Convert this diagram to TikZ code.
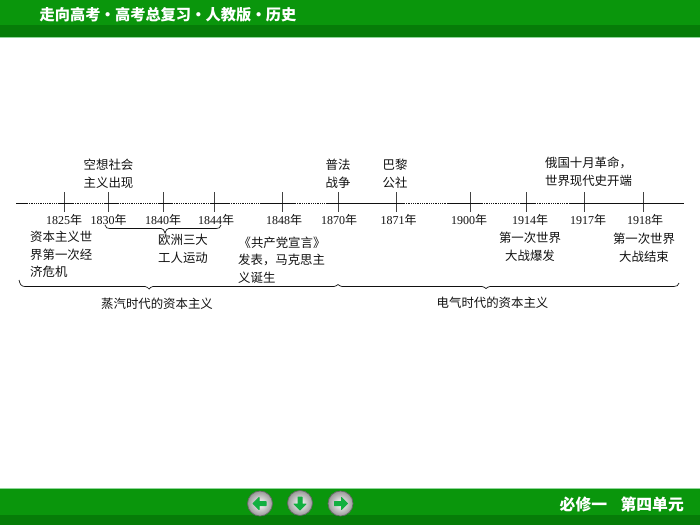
\documentclass[tikz,border=0pt]{standalone}
\usepackage{fontspec}
\setmainfont{Liberation Serif}
\newfontfamily\cjk{Noto Sans CJK SC}
\usetikzlibrary{calc}
\normallineskiplimit=-30pt
\lineskiplimit=-30pt
\AtBeginDocument{\normallineskiplimit=-30pt \lineskiplimit=-30pt}
\definecolor{barlight}{HTML}{0A960C}
\definecolor{bardark}{HTML}{067C08}
\definecolor{barline}{HTML}{8FD69A}
\definecolor{arrowgreen}{HTML}{12B040}
\definecolor{ink}{HTML}{111111}
\newcommand{\yr}[1]{#1{\cjk 年}}
\tikzset{
  x=1pt,y=-1pt,
  lbl/.style={font=\cjk\fontsize{12.4}{17.7}\selectfont,text=ink,align=center,inner sep=0pt},
  lblleft/.style={lbl,align=left},
  year/.style={font=\fontsize{12}{14}\selectfont,text=ink,inner sep=0pt},
  axis/.style={draw=ink,line width=0.8pt},
  axisdot/.style={draw=ink,line width=0.8pt,densely dotted},
  tick/.style={draw=ink!80,line width=0.8pt},
  brace/.style={draw=ink,line width=0.7pt},
  bartext/.style={font=\cjk\bfseries\fontsize{15.2}{17}\selectfont,text=white,inner sep=0pt},
  foottext/.style={font=\cjk\bfseries\fontsize{15.8}{17}\selectfont,text=white,inner sep=0pt},
  btn/.style={circle,minimum size=25pt,inner sep=0pt,draw=black!60,line width=0.7pt,inner color=white,outer color=black!40},
  btnarrow/.style={fill=arrowgreen,draw=arrowgreen,line width=1pt,line join=round}
}
\begin{document}
\begin{tikzpicture}
\useasboundingbox (0,0) rectangle (700,525);
\fill[white] (0,0) rectangle (700,525);
% header
\fill[barlight] (0,0) rectangle (700,25);
\fill[bardark] (0,25) rectangle (700,37);
\fill[barline] (0,37) rectangle (700,38);
\node[bartext,anchor=west] (title) at (39.5,14.5) {走向高考\hspace{-0.3pt}·\hspace{-0.3pt}高考总复习\hspace{-0.3pt}·\hspace{-0.3pt}人教版\hspace{-0.3pt}·\hspace{-0.3pt}历史};
% footer
\fill[barline] (0,488) rectangle (700,489);
\fill[barlight] (0,489) rectangle (700,515);
\fill[bardark] (0,515) rectangle (700,525);
\node[foottext,anchor=east] (unit) at (684,504) {必修一\hspace{13.5pt}第四单元};
% buttons
\node[btn] (bl) at (260,503.5) {};
\node[btn] (bd) at (300,503) {};
\node[btn] (br) at (340.5,503.5) {};
\fill[btnarrow] ($(bl)+(-7,0)$) -- ++(6,-6) -- ++(0,4) -- ++(7,0) -- ++(0,4) -- ++(-7,0) -- ++(0,4) -- cycle;
\fill[btnarrow] ($(br)+(7,0)$) -- ++(-6,-6) -- ++(0,4) -- ++(-7,0) -- ++(0,4) -- ++(7,0) -- ++(0,4) -- cycle;
\fill[btnarrow] ($(bd)+(0,7)$) -- ++(-6,-6) -- ++(4,0) -- ++(0,-7) -- ++(4,0) -- ++(0,7) -- ++(4,0) -- cycle;
% axis
\coordinate (s) at (16,203);
\coordinate (e) at (684,203);
\foreach \n/\x in {a/64,b/108.5,c/163.5,d/214.5,f/282,g/338,h/396.5,i/470,j/526,k/584,l/643}{
  \coordinate (t\n) at (\x,203);
  \draw[tick] (\x,192) -- (\x,212);
}
\draw[axis] (s) -- (27,203);
\draw[axisdot] (27,203) -- (60,203);
\draw[axis] (60,203) -- (73,203);
\draw[axisdot] (73,203) -- (104,203);
\draw[axis] (104,203) -- (118,203);
\draw[axisdot] (118,203) -- (160,203);
\draw[axis] (160,203) -- (172,203);
\draw[axisdot] (172,203) -- (210,203);
\draw[axis] (210,203) -- (229,203);
\draw[axisdot] (229,203) -- (262,203);
\draw[axis] (262,203) -- (295,203);
\draw[axisdot] (295,203) -- (328,203);
\draw[axis] (328,203) -- (404,203);
\draw[axisdot] (404,203) -- (448,203);
\draw[axis] (448,203) -- (482,203);
\draw[axisdot] (482,203) -- (520,203);
\draw[axis] (520,203) -- (535,203);
\draw[axisdot] (535,203) -- (570,203);
\draw[axis] (570,203) -- (e);
% years
\foreach \n/\x/\t in {ya/64/1825,yb/108.5/1830,yc/163/1840,yd/216/1844,yf/284/1848,yg/339/1870,yh/398.5/1871,yi/469/1900,yj/530/1914,yk/588/1917,yl/645/1918}{
  \node[year] (\n) at (\x,219.5) {\yr{\t}};
}
% upper labels
\node[lbl] (u1) at (108.5,174) {空想社会\\主义出现};
\node[lbl] (u2) at (338,174) {普法\\战争};
\node[lbl] (u3) at (395,174) {巴黎\\公社};
\node[lbl,align=left] (u4) at (588.5,171.5) {俄国十月革命，\\世界现代史开端};
% lower labels
\node[lblleft,anchor=west] (d1) at (30,254.5) {资本主义世\\界第一次经\\济危机};
\node[lbl] (d2) at (183,248.5) {欧洲三大\\工人运动};
\node[lbl] (d3a) at (282,243) {《共产党宣言》};
\node[lblleft,anchor=west] (d3) at (238,269) {发表，马克思主\\义诞生};
\node[lbl] (d4) at (530,247) {第一次世界\\大战爆发};
\node[lbl] (d5) at (644,247.5) {第一次世界\\大战结束};
\node[lbl] (e1) at (157,304) {蒸汽时代的资本主义};
\node[lbl] (e2) at (492.5,303) {电气时代的资本主义};
% small brace
\coordinate (b1) at (105,225);
\coordinate (b2) at (221,225);
\coordinate (bm) at (165,233);
\draw[brace] (b1) .. controls (106,228) and (107,228.5) .. (110,228.5) -- (161,228.5) .. controls (163,228.5) and (164,230) .. (bm) .. controls (166,230) and (167,228.5) .. (169,228.5) -- (216,228.5) .. controls (219,228.5) and (220,228) .. (b2);
% big braces
\coordinate (B1) at (19,280);
\coordinate (Bm1) at (149,289);
\coordinate (Bj) at (338,284.5);
\coordinate (Bm2) at (486,288.5);
\coordinate (B2) at (679,283);
\draw[brace] (B1) .. controls (20,284) and (21,286.5) .. (25,286.5) -- (145,286.5) .. controls (147,286.5) and (148,288) .. (Bm1) .. controls (150,288) and (151,286.5) .. (153,286.5) -- (334,286.5) .. controls (336,286.5) and (337,285) .. (Bj) .. controls (339,285) and (340,286.5) .. (342,286.5) -- (482,286.5) .. controls (484,286.5) and (485,288) .. (Bm2) .. controls (487,288) and (488,286.5) .. (490,286.5) -- (674,286.5) .. controls (677,286.5) and (678,285.5) .. (B2);
\end{tikzpicture}
\end{document}
